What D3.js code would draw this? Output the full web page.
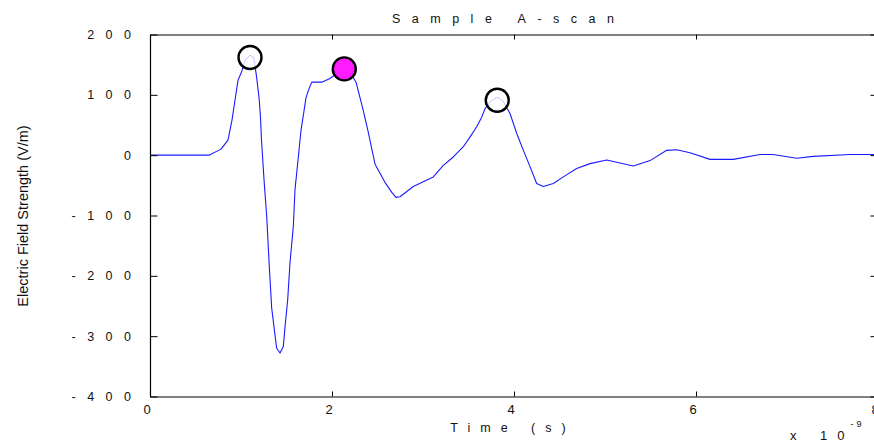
<!DOCTYPE html>
<html>
<head>
<meta charset="utf-8">
<script src="https://cdn.jsdelivr.net/npm/d3@7"></script>
<style>
  html, body { margin: 0; padding: 0; background: #fff; }
  svg { display: block; }
  text { font-family: "Liberation Sans", Arial, Helvetica, sans-serif; fill: #111; }
</style>
</head>
<body>
<svg id="chart" width="874" height="442"></svg>
<script>
// Time samples (ns) and electric field strength (V/m) of the A-scan trace
const timeNs = [
  0, 0.648, 0.780, 0.857, 0.901, 0.934, 0.967, 1.011, 1.044, 1.099,
  1.140, 1.172, 1.201, 1.216, 1.224, 1.253, 1.282, 1.311, 1.337, 1.366,
  1.392, 1.429, 1.465, 1.484, 1.513, 1.538, 1.575, 1.593, 1.630, 1.659,
  1.685, 1.714, 1.740, 1.777, 1.887, 1.978, 2.055, 2.135, 2.198, 2.264,
  2.344, 2.396, 2.473, 2.582, 2.659, 2.703, 2.747, 2.893, 3.113, 3.223,
  3.333, 3.443, 3.516, 3.590, 3.645, 3.681, 3.747, 3.816, 3.879, 3.956,
  4.030, 4.103, 4.176, 4.249, 4.322, 4.432, 4.542, 4.689, 4.835, 5.019,
  5.165, 5.311, 5.495, 5.678, 5.788, 5.934, 6.154, 6.410, 6.703, 6.849,
  7.106, 7.289, 7.692, 8.0
];
const fieldVm = [
  0, 0, 10, 25, 58, 91, 124, 140, 157, 166,
  162, 129, 91, 58, 28, -41, -100, -185, -253, -289,
  -320, -328, -317, -284, -240, -179, -118, -58, -3, 41,
  66, 95, 107, 121, 121, 127, 136, 143, 138, 121,
  74, 40, -15, -45, -62, -70, -69, -52, -36, -17,
  -3, 14, 30, 47, 63, 77, 90, 96, 90, 69,
  36, 8, -19, -47, -52, -47, -36, -22, -14, -8,
  -13, -18, -9, 8, 9, 4, -7, -7, 1, 1,
  -5, -2, 1, 1
];

// Marked peaks: time (ns), value (V/m), highlighted or not
const peakTimes = [1.099, 2.135, 3.816];
const peakValues = [162, 143, 91];
const peakSelected = [false, true, false];

const xTicks = [0, 2, 4, 6, 8];
const yTicks = [-400, -300, -200, -100, 0, 100, 200];

const titleText = "Sample A-scan";
const xLabelText = "Time (s)";
const yLabelText = "Electric Field Strength (V/m)";

const svg = d3.select("#chart");
const plotLeft = 150, plotRight = 878, plotTop = 34.5, plotBottom = 396.5;

const x = d3.scaleLinear().domain([0, 8]).range([plotLeft, plotRight]);
const y = d3.scaleLinear().domain([-400, 200]).range([plotBottom, plotTop]);

const trace = timeNs.map((t, i) => [t, fieldVm[i]]);

// Trace
svg.append("path")
  .datum(trace)
  .attr("fill", "none")
  .attr("stroke", "#1a1aff")
  .attr("stroke-width", 1.1)
  .attr("stroke-linejoin", "round")
  .attr("d", d3.line().x(d => x(d[0])).y(d => y(d[1])));

// Axes box with inward ticks
const spacing = 11.5;
const plainNumber = d => String(d);   // hyphen-minus, as printed on the axes
function styleAxis(g) {
  g.selectAll(".domain").attr("stroke", "#000").attr("stroke-width", 1.2);
  g.selectAll(".tick line").attr("stroke", "#000").attr("stroke-width", 1);
}

const xBottom = svg.append("g")
  .attr("transform", `translate(0,${plotBottom})`)
  .call(d3.axisBottom(x).tickValues(xTicks).tickSizeInner(-5).tickSizeOuter(0).tickFormat(plainNumber));
styleAxis(xBottom);
xBottom.selectAll(".tick text")
  .attr("y", 17).attr("dy", 0)
  .attr("font-size", 13)
  .attr("fill", "#111")
  .attr("dx", -3.5);

const xTop = svg.append("g")
  .attr("transform", `translate(0,${plotTop})`)
  .call(d3.axisTop(x).tickValues(xTicks).tickSizeInner(-5).tickSizeOuter(0).tickFormat(""));
styleAxis(xTop);

const yLeft = svg.append("g")
  .attr("transform", `translate(${plotLeft},0)`)
  .call(d3.axisLeft(y).tickValues(yTicks).tickSizeInner(-7.5).tickSizeOuter(0).tickFormat(plainNumber));
styleAxis(yLeft);
yLeft.selectAll(".tick text")
  .attr("x", -19 + spacing).attr("dy", 4)
  .attr("font-size", 12.5)
  .attr("fill", "#111")
  .style("letter-spacing", spacing + "px");

const yRight = svg.append("g")
  .attr("transform", `translate(${plotRight},0)`)
  .call(d3.axisRight(y).tickValues(yTicks).tickSizeInner(-7.5).tickSizeOuter(0).tickFormat(""));
styleAxis(yRight);

// Peak markers
svg.append("g").selectAll("circle")
  .data(peakTimes.map((t, i) => ({ t, v: peakValues[i], sel: peakSelected[i] })))
  .join("circle")
  .attr("cx", d => x(d.t))
  .attr("cy", d => y(d.v))
  .attr("r", 11.5)
  .attr("fill", d => d.sel ? "#ff1aff" : "#fff")
  .attr("fill-opacity", d => d.sel ? 1 : 0.8)
  .attr("stroke", "#000")
  .attr("stroke-width", 2.4);

// Title and axis labels
svg.append("text")
  .attr("x", 503 + spacing / 2).attr("y", 23)
  .attr("text-anchor", "middle")
  .attr("font-size", 12.5)
  .style("letter-spacing", spacing + "px")
  .text(titleText);

svg.append("text")
  .attr("x", 508 + 5).attr("y", 432)
  .attr("text-anchor", "middle")
  .attr("font-size", 12.5)
  .style("letter-spacing", "10px")
  .text(xLabelText);

svg.append("text")
  .attr("transform", `translate(28,216) rotate(-90)`)
  .attr("text-anchor", "middle")
  .attr("font-size", 14.5)
  .text(yLabelText);

// Exponent of the time axis
const expo = svg.append("text")
  .attr("x", 790).attr("y", 440)
  .attr("font-size", 13);
expo.append("tspan").style("letter-spacing", "10px").text("x 10");
expo.append("tspan").attr("dy", -13).attr("dx", -4).attr("font-size", 9).style("letter-spacing", "3px").text("-9");
</script>
</body>
</html>
